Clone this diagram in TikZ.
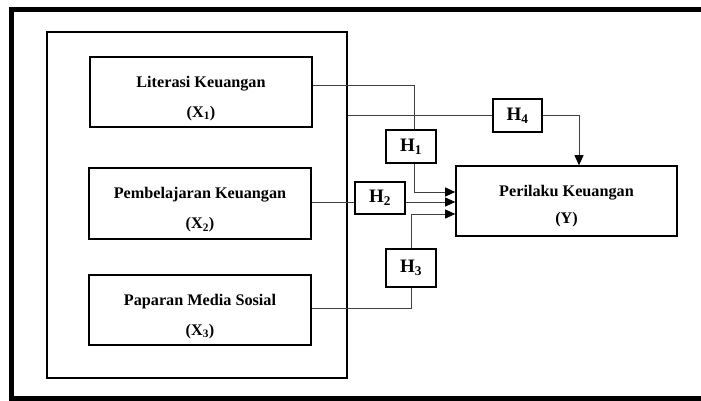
\documentclass[tikz,border=0pt]{standalone}
\usepackage{fontspec}
\setmainfont{Liberation Serif}
\usetikzlibrary{arrows.meta}
\newcommand{\topstrut}{\rule{0pt}{24pt}}
\begin{document}
\begin{tikzpicture}[x=1pt,y=-1pt,
  box/.style={draw=black,line width=1.6pt,rectangle,inner sep=0pt,align=center,
    font=\fontsize{16.2}{30}\selectfont\bfseries,minimum width=222pt,minimum height=70pt},
  hbox/.style={draw=black,line width=1.6pt,rectangle,inner sep=0pt,
    font=\fontsize{19}{20}\selectfont\bfseries,minimum width=50pt,minimum height=33pt},
  conn/.style={draw=black!75,line width=0.9pt},
  arr/.style={conn,-{Triangle[length=10pt,width=9pt,color=black]}}]
\useasboundingbox (0,0) rectangle (701,400);
\fill[white] (0,0) rectangle (701,400);
% outer frame
\draw[line width=5pt,line join=miter] (701,9.3) -- (11.5,9.3) -- (11.5,398.8) -- (701,398.8);
% group
\node[draw=black,line width=1.6pt,rectangle,minimum width=300pt,minimum height=346pt,inner sep=0pt] (grp) at (197,205) {};
% boxes
\node[box] (X1) at (201,92) {\topstrut Literasi Keuangan\\(X\textsubscript{1})};
\node[box,minimum height=71pt] (X2) at (200,203.5) {\topstrut Pembelajaran Keuangan\\(X\textsubscript{2})};
\node[box] (X3) at (200,310) {\topstrut Paparan Media Sosial\\(X\textsubscript{3})};
\node[box,minimum width=221pt,font=\fontsize{16.2}{27}\selectfont\bfseries] (Y) at (566.5,201) {\rule{0pt}{22pt}Perilaku Keuangan\\(Y)};
% hypotheses
\node[hbox] (H1) at (411,146.5) {H\textsubscript{1}};
\node[hbox,minimum width=49pt] (H4) at (517.5,115.5) {H\textsubscript{4}};
\node[hbox,minimum height=32pt] (H2) at (380,198) {H\textsubscript{2}};
\node[hbox,minimum height=38pt] (H3) at (411,268) {H\textsubscript{3}};
% connectors
\draw[conn] ([yshift=7pt]X1.east) -| ([xshift=3pt]H1.north);
\draw[arr] ([xshift=3pt]H1.south) |- ([yshift=9pt]Y.west);
\draw[conn] (grp.east |- H4.west) -- (H4.west);
\draw[arr] (H4.east) -| ([xshift=12.5pt]Y.north);
\draw[conn] ([yshift=1.5pt]X2.east) -- ([yshift=1.5pt]X2.east -| H2.west);
\draw[arr] ([yshift=1.5pt]X2.east -| H2.east) -- ([yshift=1.5pt]X2.east -| Y.west);
\draw[conn] ([yshift=2pt]X3.east) -| (H3.south);
\draw[arr] (H3.north) |- ([yshift=-13pt]Y.west);
\end{tikzpicture}
\end{document}
